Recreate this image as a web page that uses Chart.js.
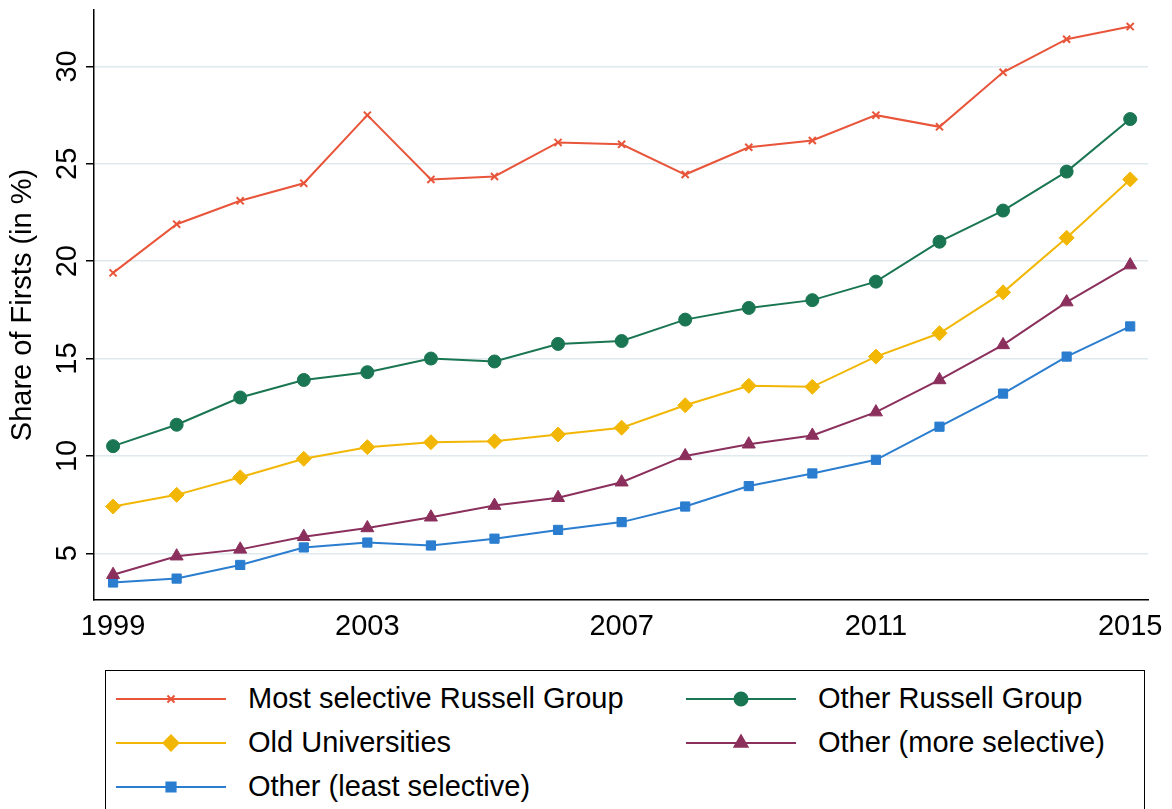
<!DOCTYPE html>
<html lang="en">
<head>
<meta charset="UTF-8">
<title>Share of Firsts</title>
<style>
    body { margin: 0; background: #fff; font-family: "Liberation Sans", Arial, sans-serif; }
    #wrap { position: relative; width: 1172px; height: 809px; }
    #legend {
        position: absolute; left: 105px; top: 670px; width: 1040px; height: 160px;
        border: 1.5px solid #000; box-sizing: border-box;
    }
    .item { position: absolute; font-size: 29px; display: flex; align-items: center; }
    .item canvas { margin-right: 22px; }
</style>
<script src="https://cdn.jsdelivr.net/npm/chart.js@4.4.1/dist/chart.umd.min.js"></script>
</head>
<body>
<div id="wrap">
    <canvas id="chart" width="1172" height="660"></canvas>
    <div id="legend"></div>
</div>
<script>
const years = [1999,2000,2001,2002,2003,2004,2005,2006,2007,2008,2009,2010,2011,2012,2013,2014,2015];
const mostSelective = [19.4,21.9,23.1,24.0,27.5,24.2,24.35,26.1,26.0,24.45,25.85,26.2,27.5,26.9,29.7,31.4,32.05];
const otherRussell = [10.5,11.6,13.0,13.9,14.3,15.0,14.85,15.75,15.9,17.0,17.6,18.0,18.95,21.0,22.6,24.6,27.3];
const oldUnis = [7.4,8.0,8.9,9.85,10.45,10.7,10.75,11.1,11.45,12.6,13.6,13.55,15.1,16.3,18.4,21.2,24.2];
const otherMore = [3.9,4.85,5.2,5.85,6.3,6.85,7.45,7.85,8.65,10.0,10.6,11.05,12.25,13.9,15.7,17.9,19.8];
const otherLeast = [3.5,3.7,4.4,5.3,5.55,5.4,5.75,6.2,6.6,7.4,8.45,9.1,9.8,11.5,13.2,15.1,16.65];
const xTicks = [1999,2003,2007,2011,2015];
const yTicks = [5,10,15,20,25,30];

const series = [
    { label: 'Most selective Russell Group', data: mostSelective, color: '#e8553a', style: 'crossRot', r: 5, lx: 0, ly: 0 },
    { label: 'Other Russell Group', data: otherRussell, color: '#1a7652', style: 'circle', r: 6.5, lx: 570, ly: 0 },
    { label: 'Old Universities', data: oldUnis, color: '#f2b705', style: 'rectRot', r: 7.5, lx: 0, ly: 1 },
    { label: 'Other (more selective)', data: otherMore, color: '#8b2f5c', style: 'triangle', r: 7.5, lx: 570, ly: 1 },
    { label: 'Other (least selective)', data: otherLeast, color: '#2a7dcf', style: 'rect', r: 6.5, lx: 0, ly: 2 }
];

const FONT = '"Liberation Sans", Arial, sans-serif';

const yLabels = {
    id: 'yLabels',
    afterDraw(chart) {
        const ctx = chart.ctx, y = chart.scales.y;
        ctx.save();
        ctx.fillStyle = '#000';
        ctx.font = '29px ' + FONT;
        ctx.textAlign = 'center';
        ctx.textBaseline = 'bottom';
        yTicks.forEach(v => {
            const py = y.getPixelForValue(v);
            ctx.save(); ctx.translate(82, py); ctx.rotate(-Math.PI / 2);
            ctx.fillText(String(v), 0, 0); ctx.restore();
        });
        ctx.save(); ctx.translate(37, (y.top + y.bottom) / 2); ctx.rotate(-Math.PI / 2);
        ctx.fillText('Share of Firsts (in %)', 0, 0); ctx.restore();
        ctx.restore();
    }
};

new Chart(document.getElementById('chart'), {
    type: 'line',
    data: {
        datasets: series.map(s => ({
            label: s.label,
            data: years.map((yr, i) => ({ x: yr, y: s.data[i] })),
            borderColor: s.color, backgroundColor: s.color,
            borderWidth: 2, pointStyle: s.style, pointRadius: s.r,
            pointBorderWidth: s.style === 'crossRot' ? 2 : 1, tension: 0
        }))
    },
    options: {
        responsive: false, animation: false,
        layout: { padding: { top: 10, right: 24, left: 0, bottom: 0 } },
        plugins: { legend: { display: false }, tooltip: { enabled: false } },
        scales: {
            x: {
                type: 'linear', min: 1998.7, max: 2015.28,
                afterBuildTicks: s => { s.ticks = xTicks.map(v => ({ value: v })); },
                afterFit: s => { s.height = 60; },
                grid: { display: false, drawTicks: true, tickLength: 8, tickColor: '#000' },
                border: { color: '#000', width: 1.5 },
                ticks: { color: '#000', font: { size: 29, family: FONT }, maxRotation: 0, padding: 2, callback: v => String(v) }
            },
            y: {
                min: 2.6, max: 32.9,
                afterBuildTicks: s => { s.ticks = yTicks.map(v => ({ value: v })); },
                afterFit: s => { s.width = 94; },
                grid: { color: '#dfe9ee', lineWidth: 1.5, tickLength: 8, tickColor: '#000', drawTicks: true },
                border: { color: '#000', width: 1.5 },
                ticks: { display: false }
            }
        }
    },
    plugins: [yLabels]
});

// legend
const legend = document.getElementById('legend');
series.forEach(s => {
    const div = document.createElement('div');
    div.className = 'item';
    div.style.left = (10 + s.lx) + 'px';
    div.style.top = (11 + s.ly * 44) + 'px';
    const c = document.createElement('canvas');
    c.width = 110; c.height = 30;
    const ctx = c.getContext('2d');
    ctx.strokeStyle = s.color; ctx.fillStyle = s.color; ctx.lineWidth = 2;
    ctx.beginPath(); ctx.moveTo(0, 15); ctx.lineTo(110, 15); ctx.stroke();
    Chart.helpers.drawPoint(ctx, { pointStyle: s.style, radius: s.r, borderWidth: s.style === 'crossRot' ? 2 : 1, rotation: 0 }, 55, 15);
    div.appendChild(c);
    div.appendChild(document.createTextNode(s.label));
    legend.appendChild(div);
});
</script>
</body>
</html>
